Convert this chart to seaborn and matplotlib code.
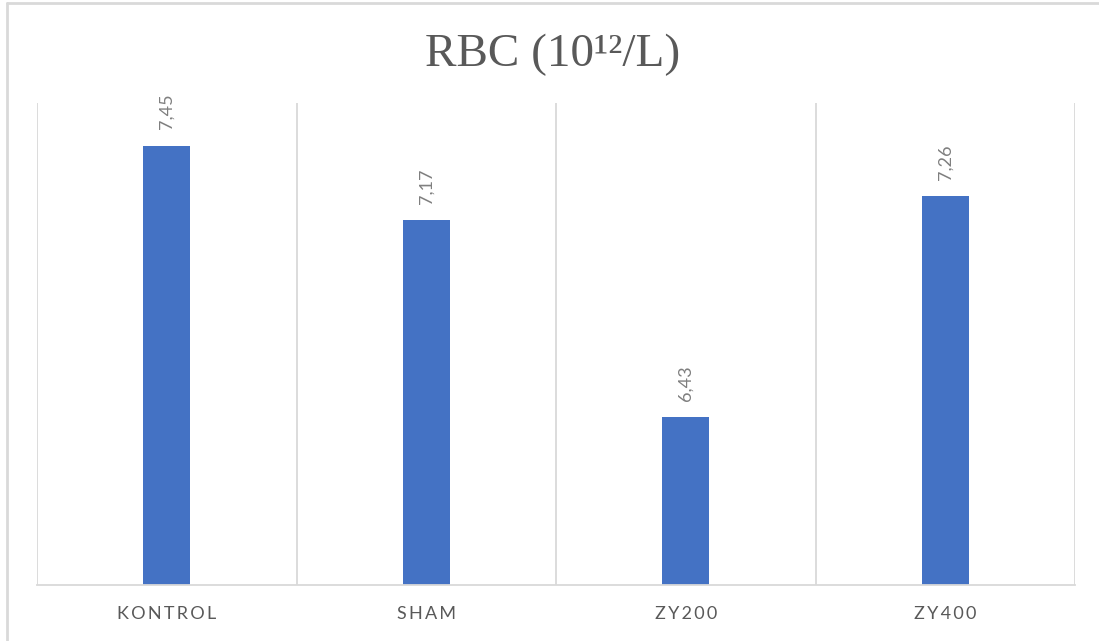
import matplotlib
matplotlib.use("Agg")
import matplotlib.pyplot as plt
from matplotlib.lines import Line2D
import seaborn as sns
import pandas as pd

# Red blood cell counts per group
groups = ["KONTROL", "SHAM", "ZY200", "ZY400"]
rbc = [7.45, 7.17, 6.43, 7.26]
title = "RBC (10\u00b9\u00b2/L)"

df = pd.DataFrame({"group": groups, "rbc": rbc})

sns.set_theme(style="white")
plt.rcParams["font.family"] = ["Lato", "DejaVu Sans"]

BAR = "#4472C4"
GRID = "#d9d9d9"
TEXT = "#595959"

fig = plt.figure(figsize=(10.99, 6.41), dpi=100)
ax = fig.add_axes([37 / 1099, 56 / 641, 1038 / 1099, 482 / 641])

sns.barplot(data=df, x="group", y="rbc", color=BAR, width=0.18,
            saturation=1, ax=ax, edgecolor="none")

ax.set_ylim(5.8, 7.61)
ax.set_xlim(-0.5, len(groups) - 0.5)

# Category separators
ax.set_xticks([i - 0.5 for i in range(len(groups) + 1)], minor=True)
ax.grid(True, which="minor", axis="x", color=GRID, linewidth=1.3)
ax.grid(False, which="major")
ax.yaxis.set_visible(False)
for side in ["left", "right", "top"]:
    ax.spines[side].set_visible(False)
ax.spines["bottom"].set_color(GRID)
ax.spines["bottom"].set_linewidth(1.3)

# Letter-spaced category labels
spaced = ["\u2009".join(g) for g in groups]
ax.set_xticks(range(len(groups)))
ax.set_xticklabels(spaced, fontsize=13, color=TEXT)
ax.tick_params(axis="x", which="both", length=0, pad=15)
ax.set_xlabel("")
ax.set_ylabel("")

# Value labels above bars
for i, v in enumerate(rbc):
    ax.annotate(f"{v:.2f}".replace(".", ","), xy=(i, v), xytext=(0, 12),
                textcoords="offset points", rotation=90, ha="center",
                va="bottom", fontsize=13, color="#7f7f7f")

fig.text(553 / 1099, 1 - 55 / 641, title, ha="center", va="center",
         fontsize=34, color=TEXT, family=["Liberation Serif", "DejaVu Serif"])

# Chart frame edges
fig.add_artist(Line2D([7 / 1099, 7 / 1099], [0, 1 - 3 / 641],
                      transform=fig.transFigure, color=GRID, linewidth=2))
fig.add_artist(Line2D([7 / 1099, 1], [1 - 3 / 641, 1 - 3 / 641],
                      transform=fig.transFigure, color=GRID, linewidth=2))

fig.savefig("out.png", dpi=100, facecolor="white")
